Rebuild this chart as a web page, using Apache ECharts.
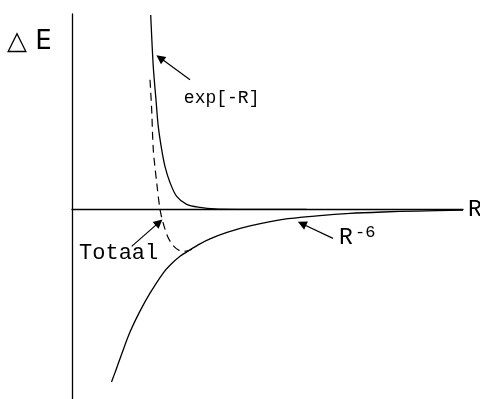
<!DOCTYPE html>
<html>
<head>
<meta charset="utf-8">
<script src="https://cdn.jsdelivr.net/npm/echarts@6/dist/echarts.min.js"></script>
<style>
  html, body { margin: 0; padding: 0; background: #fff; }
  #chart { width: 480px; height: 399px; }
</style>
</head>
<body>
<div id="chart"></div>
<script>
// Energy contributions versus separation R (arbitrary units)
const repulsion = [
  [2.013, 4.974], [2.079, 3.648], [2.148, 2.806], [2.207, 2.117], [2.294, 1.531],
  [2.379, 1.097], [2.506, 0.689], [2.678, 0.332], [2.934, 0.128], [3.274, 0.051],
  [3.657, 0.013], [4.297, 0.003], [6.000, 0.000]
];
const attraction = [
  [1.010, -4.413], [1.125, -4.107], [1.271, -3.699], [1.483, -3.138], [1.739, -2.602],
  [1.995, -2.143], [2.327, -1.633], [2.506, -1.429], [2.762, -1.199], [3.018, -1.033],
  [3.274, -0.880], [3.529, -0.753], [3.964, -0.587], [4.552, -0.421], [5.396, -0.255],
  [6.266, -0.166], [7.110, -0.102], [7.954, -0.066], [8.824, -0.041], [10.000, -0.020]
];
const total = [
  [1.995, 3.316], [2.038, 2.551], [2.079, 1.531], [2.166, 0.689], [2.251, 0.000],
  [2.327, -0.332], [2.455, -0.714], [2.583, -0.918], [2.711, -1.033], [2.839, -1.071],
  [2.967, -1.059], [3.069, -1.020]
];

// Annotation arrows: [tail, head]
const arrowExp = [[3.018, 3.316], [2.251, 3.878]];
const arrowTotal = [[1.526, -0.944], [2.225, -0.332]];
const arrowR6 = [[6.675, -0.740], [5.882, -0.365]];

// Annotation texts anchored at their left-middle point
const labelExp = { text: 'exp[-R]', at: [2.860, 2.857] };
const labelTotal = { text: 'Totaal', at: [0.180, -1.110] };
const labelR = { text: 'R', at: [6.830, -0.727] };
const labelR6 = { text: '-6', at: [7.240, -0.590] };

const axisTitleY = '\u25B3 E';
const axisTitleX = 'R';

const FONT = 'Liberation Mono';
const ink = '#000';

function arrowLine(pair) {
  return {
    silent: true,
    symbol: ['none', 'triangle'],
    symbolSize: 9,
    label: { show: false },
    lineStyle: { color: ink, width: 1.2, type: 'solid' },
    data: [[{ coord: pair[0] }, { coord: pair[1] }]]
  };
}

const chart = echarts.init(document.getElementById('chart'), null, { renderer: 'canvas' });

chart.setOption({
  animation: false,
  backgroundColor: '#fff',
  grid: { left: 72, right: 17, top: 14, bottom: 0, containLabel: false, outerBoundsMode: 'none' },
  xAxis: {
    type: 'value', min: 0, max: 10,
    name: axisTitleX, nameLocation: 'end', nameGap: 5,
    nameTextStyle: { fontFamily: FONT, fontSize: 23, color: ink, align: 'left', verticalAlign: 'middle' },
    axisLine: { show: true, onZero: true, lineStyle: { color: ink, width: 1.3 } },
    axisTick: { show: false }, axisLabel: { show: false }, splitLine: { show: false }
  },
  yAxis: {
    type: 'value', min: -4.85, max: 5.0,
    axisLine: { show: true, onZero: false, lineStyle: { color: ink, width: 1.3 } },
    axisTick: { show: false }, axisLabel: { show: false }, splitLine: { show: false }
  },
  series: [
    {
      name: 'exp[-R]', type: 'line', data: repulsion, showSymbol: false,
      smooth: 0.3,
      lineStyle: { color: ink, width: 1.3 }, z: 3,
      markLine: arrowLine(arrowExp)
    },
    {
      name: 'R^-6', type: 'line', data: attraction, showSymbol: false,
      smooth: 0.3,
      lineStyle: { color: ink, width: 1.3 }, z: 3,
      markLine: arrowLine(arrowR6)
    },
    {
      name: 'Totaal', type: 'line', data: total, showSymbol: false,
      smooth: 0.3,
      lineStyle: { color: ink, width: 1.2, type: [8, 5] }, z: 3,
      markLine: arrowLine(arrowTotal)
    }
  ]
});

function textAt(label, size) {
  const p = chart.convertToPixel({ gridIndex: 0 }, label.at);
  return {
    type: 'text', x: p[0], y: p[1], silent: true,
    style: { text: label.text, fontFamily: FONT, fontSize: size, fill: ink, align: 'left', verticalAlign: 'middle' }
  };
}

chart.setOption({
  graphic: [
    textAt(labelExp, 18),
    textAt(labelTotal, 22),
    textAt(labelR, 23),
    textAt(labelR6, 17),
    {
      type: 'text', x: 7, y: 42, silent: true,
      style: { text: axisTitleY, fontFamily: 'DejaVu Sans', fontSize: 26, fill: ink, align: 'left', verticalAlign: 'middle' }
    }
  ]
});
</script>
</body>
</html>
